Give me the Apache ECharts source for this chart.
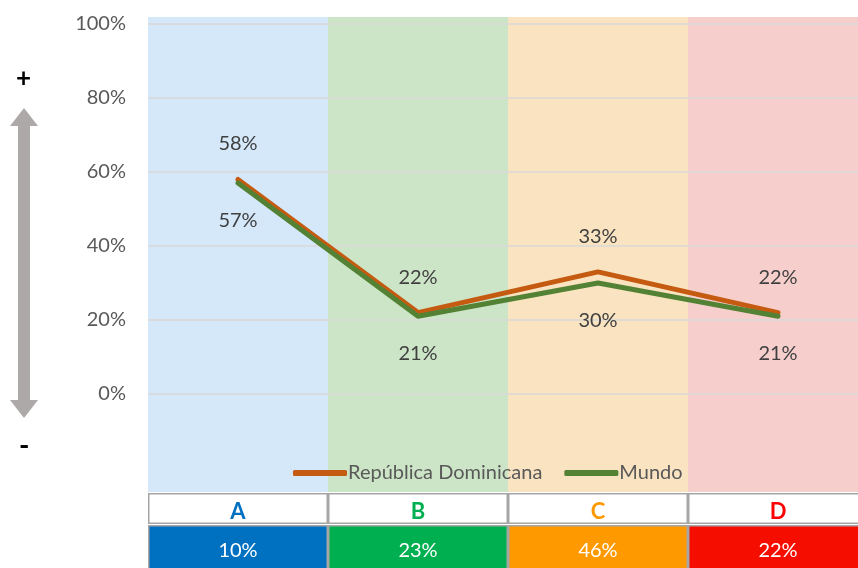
<!DOCTYPE html>
<html><head><meta charset="utf-8">
<script src="https://cdn.jsdelivr.net/npm/echarts@6/dist/echarts.min.js"></script>
<style>html,body{margin:0;padding:0;background:#fff}#c{width:858px;height:568px}</style>
</head><body><div id="c"></div>
<script>
var categories = ['A', 'B', 'C', 'D'];
var rdValues = [58, 22, 33, 22];
var mundoValues = [57, 21, 30, 21];
var shareLabels = ['10%', '23%', '46%', '22%'];
var yTicks = [0, 20, 40, 60, 80, 100];
var bandColors = ['#D5E8FA', '#CDE5C7', '#F9E3C0', '#F6CFCD'];
var cellColors = ['#0070C0', '#00B050', '#FF9900', '#F50D00'];
var letterColors = ['#0070C0', '#00B050', '#FF9900', '#FF0000'];

var FONT = 'Lato';
var chart = echarts.init(document.getElementById('c'), null, {renderer: 'canvas'});
var gl = 148, gw = 720;
var option = {
  animation: false,
  textStyle: {fontFamily: FONT},
  grid: [
    {left: gl, width: gw, top: 24, height: 370, outerBoundsMode: 'none', containLabel: false},
    {left: gl, width: gw, top: 17, height: 475, outerBoundsMode: 'none', containLabel: false},
    {left: gl, width: gw, top: 493, height: 31, show: true, backgroundColor: '#A6A6A6', borderWidth: 0, outerBoundsMode: 'none', containLabel: false},
    {left: gl, width: gw, top: 525, height: 50, show: true, backgroundColor: '#A6A6A6', borderWidth: 0, outerBoundsMode: 'none', containLabel: false}
  ],
  xAxis: [
    {gridIndex: 0, type: 'category', data: categories, show: false, boundaryGap: true},
    {gridIndex: 1, type: 'category', data: categories, show: false},
    {gridIndex: 2, type: 'category', data: categories, show: false},
    {gridIndex: 3, type: 'category', data: categories, show: false}
  ],
  yAxis: [
    {gridIndex: 0, type: 'value', min: yTicks[0], max: yTicks[yTicks.length-1], interval: 20,
     axisLine: {show: false}, axisTick: {show: false},
     axisLabel: {formatter: '{value}%', color: '#595959', fontSize: 20, margin: 22, fontFamily: FONT},
     splitLine: {lineStyle: {color: '#D9D9D9', width: 1.5}}, z: 1},
    {gridIndex: 1, type: 'value', min: 0, max: 1, show: false},
    {gridIndex: 2, type: 'value', min: 0, max: 1, show: false},
    {gridIndex: 3, type: 'value', min: 0, max: 1, show: false}
  ],
  legend: {
    left: 288, top: 458,
    itemWidth: 54, itemHeight: 6, itemGap: 22,
    icon: 'roundRect',
    textStyle: {color: '#595959', fontSize: 20, fontFamily: FONT, padding: [0,0,0,-4]},
    data: ['República Dominicana', 'Mundo']
  },
  series: [
    {type: 'bar', xAxisIndex: 1, yAxisIndex: 1, z: -1, barWidth: '100%', silent: true,
     data: categories.map(function (c, i) { return {value: 1, itemStyle: {color: bandColors[i]}}; })},
    {type: 'bar', xAxisIndex: 2, yAxisIndex: 2, barWidth: '100%', silent: true,
     data: categories.map(function (c, i) {
       return {value: 1, itemStyle: {color: '#fff', borderColor: '#A6A6A6', borderWidth: 1.5},
               label: {show: true, position: 'inside', formatter: c, color: letterColors[i],
                       fontSize: 22, fontWeight: 'bold', fontFamily: FONT, offset: [0, 3]}};
     })},
    {type: 'bar', xAxisIndex: 3, yAxisIndex: 3, barWidth: '100%', silent: true,
     data: categories.map(function (c, i) {
       return {value: 1, itemStyle: {color: cellColors[i], borderColor: '#A6A6A6', borderWidth: 1.5},
               label: {show: true, position: 'inside', formatter: shareLabels[i], color: '#fff',
                       fontSize: 20, fontFamily: FONT, offset: [0, 1]}};
     })},
    {name: 'República Dominicana', type: 'line', xAxisIndex: 0, yAxisIndex: 0, data: rdValues,
     symbol: 'circle', symbolSize: 1, showSymbol: true,
     lineStyle: {color: '#C55A11', width: 5, cap: 'round', join: 'round'}, itemStyle: {color: '#C55A11'},
     label: {show: true, position: 'top', distance: 25, formatter: '{c}%', color: '#404040', fontSize: 20, fontFamily: FONT}, z: 3},
    {name: 'Mundo', type: 'line', xAxisIndex: 0, yAxisIndex: 0, data: mundoValues,
     symbol: 'circle', symbolSize: 1, showSymbol: true,
     lineStyle: {color: '#548235', width: 5, cap: 'round', join: 'round'}, itemStyle: {color: '#548235'},
     label: {show: true, position: 'bottom', distance: 27, formatter: '{c}%', color: '#404040', fontSize: 20, fontFamily: FONT}, z: 4}
  ],
  graphic: [
    {type: 'polygon', shape: {points: [[24,108],[38,126],[30,126],[30,400],[38,400],[24,418],[10,400],[18,400],[18,126],[10,126]]},
     style: {fill: '#ADA9A8'}},
    {type: 'text', left: 16, top: 66, style: {text: '+', fill: '#000', font: 'bold 26px ' + FONT}},
    {type: 'text', left: 19, top: 432, style: {text: '-', fill: '#000', font: 'bold 28px ' + FONT}}
  ]
};
chart.setOption(option);
</script></body></html>
